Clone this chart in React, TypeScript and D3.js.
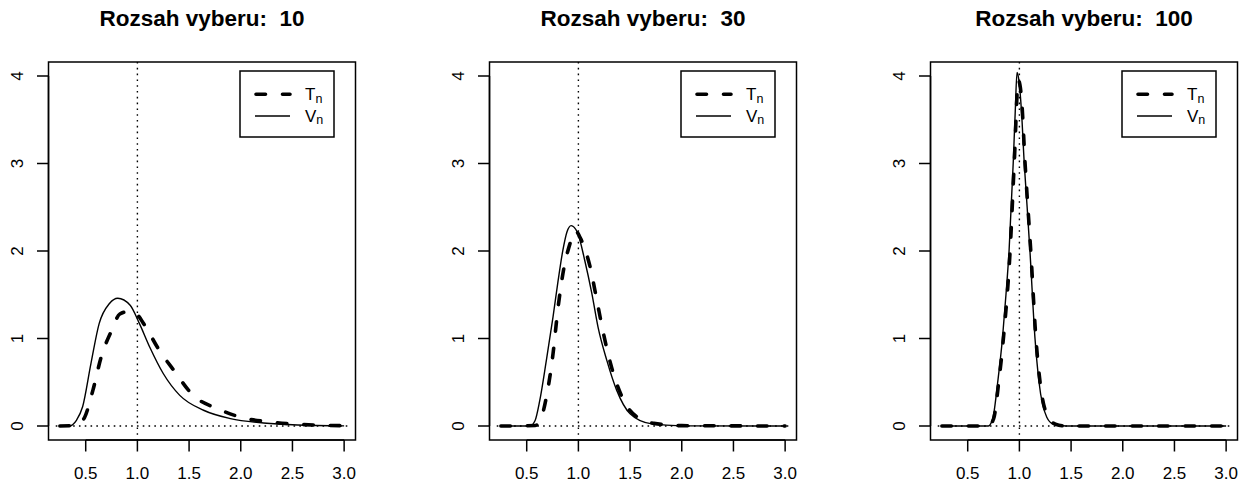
import React from "react";
import * as d3 from "d3";

// ---- data ----
const sampleSizes = [10, 30, 100];
const xTicks = [0.5, 1.0, 1.5, 2.0, 2.5, 3.0];
const yTicks = [0, 1, 2, 3, 4];
const legendLabels = ["T", "V"];

// n = 10
const xT10 = [0.25, 0.38, 0.44, 0.49, 0.57, 0.65, 0.75, 0.83, 0.92, 1.0, 1.06, 1.22, 1.35, 1.54, 1.77, 2.0, 2.28, 2.55, 2.81, 3.0];
const yT10 = [0, 0.005, 0.03, 0.10, 0.41, 0.79, 1.09, 1.28, 1.31, 1.27, 1.17, 0.85, 0.64, 0.35, 0.20, 0.10, 0.046, 0.02, 0.008, 0.003];
const xV10 = [0.25, 0.34, 0.41, 0.47, 0.55, 0.63, 0.73, 0.81, 0.93, 1.02, 1.12, 1.25, 1.41, 1.64, 1.90, 2.22, 2.55, 3.0];
const yV10 = [0, 0, 0.065, 0.22, 0.71, 1.17, 1.40, 1.46, 1.38, 1.17, 0.90, 0.60, 0.35, 0.18, 0.085, 0.035, 0.012, 0.002];

// n = 30
const xT30 = [0.25, 0.58, 0.626, 0.69, 0.755, 0.80, 0.85, 0.915, 0.97, 1.03, 1.113, 1.178, 1.242, 1.32, 1.437, 1.567, 1.73, 2.0, 3.0];
const yT30 = [0, 0.005, 0.05, 0.33, 0.83, 1.32, 1.74, 2.07, 2.23, 2.12, 1.82, 1.44, 1.06, 0.675, 0.294, 0.103, 0.03, 0.004, 0];
const xV30 = [0.25, 0.53, 0.58, 0.626, 0.69, 0.755, 0.80, 0.85, 0.89, 0.93, 0.96, 0.995, 1.06, 1.13, 1.19, 1.275, 1.37, 1.50, 1.70, 2.0, 3.0];
const yV30 = [0, 0, 0.06, 0.29, 0.75, 1.25, 1.63, 2.01, 2.22, 2.29, 2.27, 2.20, 1.90, 1.515, 1.13, 0.75, 0.41, 0.14, 0.027, 0.002, 0];

// n = 100
const xT100 = [0.25, 0.70, 0.75, 0.80, 0.845, 0.91, 0.95, 0.99, 1.02, 1.055, 1.11, 1.16, 1.20, 1.27, 1.35, 1.45, 3.0];
const yT100 = [0, 0, 0.08, 0.5, 1.0, 2.0, 3.0, 3.95, 3.75, 3.0, 2.0, 1.0, 0.5, 0.12, 0.02, 0, 0];
const xV100 = [0.25, 0.70, 0.745, 0.79, 0.836, 0.87, 0.90, 0.94, 0.96, 0.977, 0.995, 1.02, 1.047, 1.075, 1.102, 1.151, 1.19, 1.265, 1.33, 1.45, 3.0];
const yV100 = [0, 0, 0.1, 0.5, 1.0, 1.5, 2.0, 3.0, 3.6, 4.04, 3.95, 3.6, 3.0, 2.5, 2.0, 1.0, 0.5, 0.1, 0.02, 0, 0];

const seriesT = [
  [xT10, yT10],
  [xT30, yT30],
  [xT100, yT100],
];
const seriesV = [
  [xV10, yV10],
  [xV30, yV30],
  [xV100, yV100],
];

// ---- layout ----
const W = 1248;
const H = 485;
const boxLefts = [48.5, 489.5, 930.5];
const boxW = 307;
const boxTop = 62;
const boxBottom = 440;
const FONT = "'Liberation Sans', Arial, Helvetica, sans-serif";

function Panel({ idx }: { idx: number }) {
  const left = boxLefts[idx];
  const right = left + boxW;
  const x = d3.scaleLinear().domain([0.14, 3.11]).range([left, right]);
  const y = d3.scaleLinear().domain([-0.16, 4.16]).range([boxBottom, boxTop]);
  const line = d3
    .line<[number, number]>()
    .x((d) => x(d[0]))
    .y((d) => y(d[1]))
    .curve(d3.curveMonotoneX);
  const toPts = (s: number[][]) => s[0].map((v, i) => [v, s[1][i]] as [number, number]);
  const tPath = line(toPts(seriesT[idx])) || "";
  const vPath = line(toPts(seriesV[idx])) || "";
  const cx = (left + right) / 2;

  const lgW = 94;
  const lgH = 66;
  const lgX = right - 21.5 - lgW;
  const lgY = boxTop + 9;

  return (
    <g>
      <text
        x={cx}
        y={26}
        textAnchor="middle"
        fontFamily={FONT}
        fontWeight="bold"
        fontSize={22.5}
        style={{ whiteSpace: "pre" }}
      >
        {"Rozsah vyberu:  " + sampleSizes[idx]}
      </text>

      {/* reference lines */}
      <line
        x1={x(1)}
        x2={x(1)}
        y1={boxTop}
        y2={boxBottom}
        stroke="#000"
        strokeWidth={1.4}
        strokeDasharray="1.6 4.2"
      />
      <line
        x1={x(0.21)}
        x2={x(3.05)}
        y1={y(0)}
        y2={y(0)}
        stroke="#000"
        strokeWidth={1.4}
        strokeDasharray="1.6 4.2"
      />

      {/* curves */}
      <path d={vPath} fill="none" stroke="#000" strokeWidth={1.4} />
      <path
        d={tPath}
        fill="none"
        stroke="#000"
        strokeWidth={3.6}
        strokeDasharray="9.5 17"
        strokeLinecap="round"
      />

      {/* box */}
      <rect
        x={left}
        y={boxTop}
        width={boxW}
        height={boxBottom - boxTop}
        fill="none"
        stroke="#000"
        strokeWidth={1.5}
      />

      {/* x axis */}
      <line x1={x(xTicks[0])} x2={x(xTicks[xTicks.length - 1])} y1={boxBottom} y2={boxBottom} stroke="#000" strokeWidth={1.5} />
      {xTicks.map((t) => (
        <g key={"x" + t}>
          <line x1={x(t)} x2={x(t)} y1={boxBottom} y2={boxBottom + 11.5} stroke="#000" strokeWidth={1.5} />
          <text x={x(t)} y={479} textAnchor="middle" fontFamily={FONT} fontSize={17}>
            {d3.format(".1f")(t)}
          </text>
        </g>
      ))}

      {/* y axis */}
      <line x1={left} x2={left} y1={y(yTicks[0])} y2={y(yTicks[yTicks.length - 1])} stroke="#000" strokeWidth={1.5} />
      {yTicks.map((t) => (
        <g key={"y" + t}>
          <line x1={left - 11.5} x2={left} y1={y(t)} y2={y(t)} stroke="#000" strokeWidth={1.5} />
          <text
            transform={`translate(${left - 25.5},${y(t)}) rotate(-90)`}
            textAnchor="middle"
            fontFamily={FONT}
            fontSize={17}
          >
            {String(t)}
          </text>
        </g>
      ))}

      {/* legend */}
      <rect x={lgX} y={lgY} width={lgW} height={lgH} fill="#fff" stroke="#000" strokeWidth={1.5} />
      <line
        x1={lgX + 16}
        x2={lgX + 50}
        y1={lgY + 23.3}
        y2={lgY + 23.3}
        stroke="#000"
        strokeWidth={3.6}
        strokeDasharray="9.5 17"
        strokeLinecap="round"
      />
      <line x1={lgX + 15} x2={lgX + 50} y1={lgY + 45} y2={lgY + 45} stroke="#000" strokeWidth={1.4} />
      {legendLabels.map((lab, i) => (
        <text key={lab} x={lgX + 65} y={lgY + 29 + i * 21.7} fontFamily={FONT} fontSize={17}>
          {lab}
          <tspan fontSize={12.5} dy={2.5}>
            n
          </tspan>
        </text>
      ))}
    </g>
  );
}

export default function App() {
  return (
    <svg
      width={W}
      height={H}
      viewBox={`0 0 ${W} ${H}`}
      style={{ position: "absolute", left: 0, top: 0, background: "#fff" }}
    >
      <rect x={0} y={0} width={W} height={H} fill="#fff" />
      {sampleSizes.map((_, i) => (
        <Panel key={i} idx={i} />
      ))}
    </svg>
  );
}
